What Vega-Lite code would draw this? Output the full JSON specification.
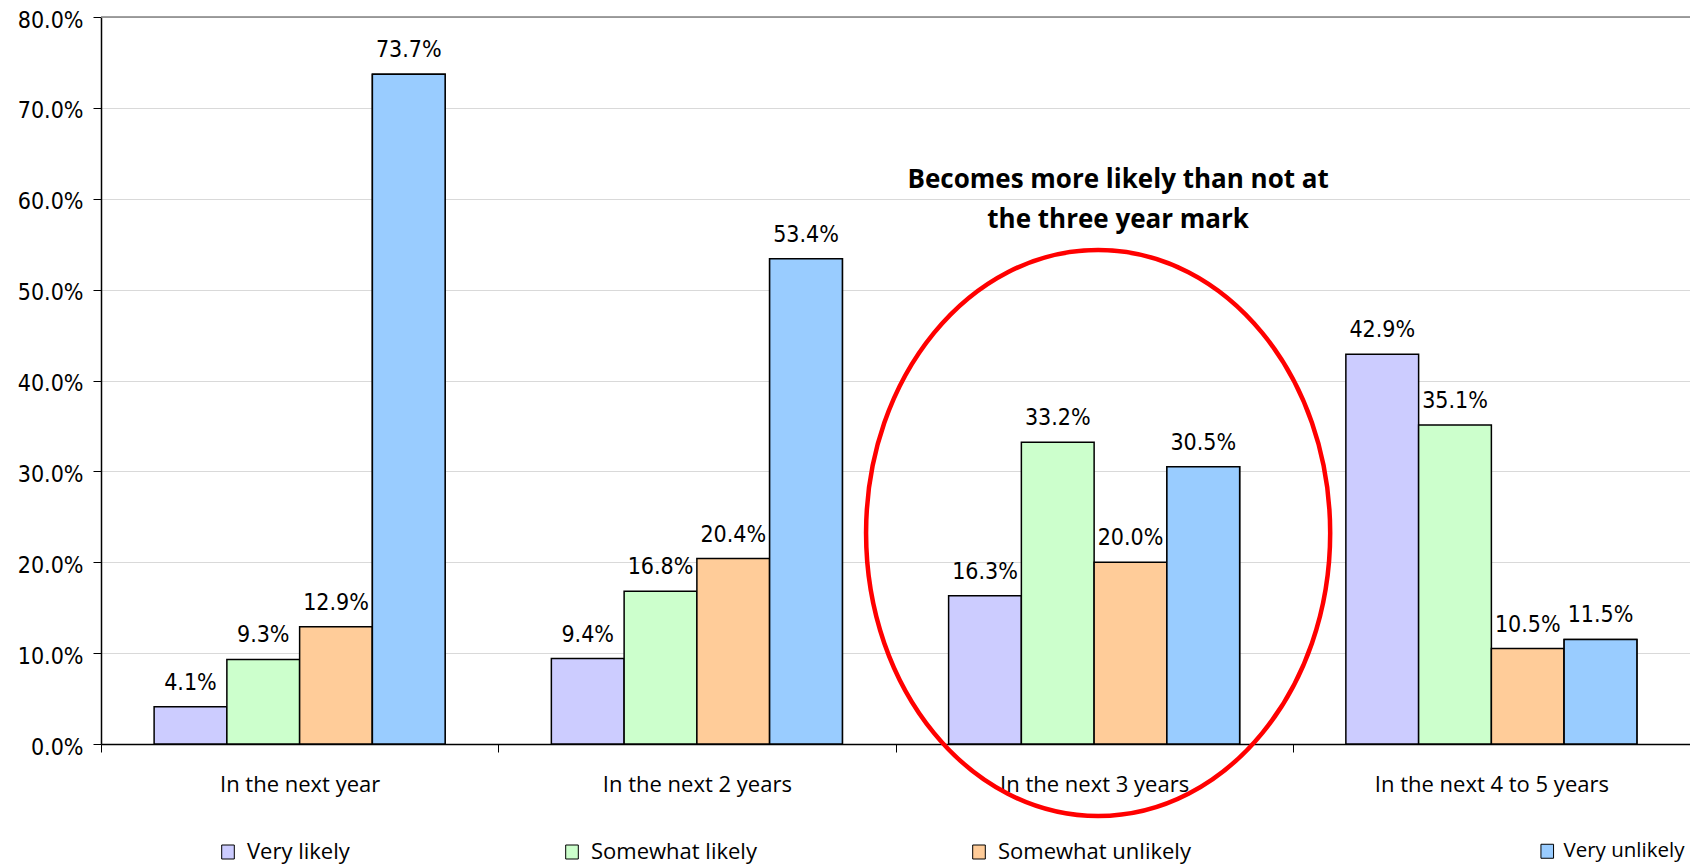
{
  "$schema": "https://vega.github.io/schema/vega-lite/v6.json",
  "width": 1589,
  "height": 727,
  "autosize": {"type": "none"},
  "padding": {"left": 101, "top": 17, "right": 0, "bottom": 122},
  "background": "white",
  "config": {
    "view": {"stroke": null},
    "axisY": {
      "grid": true, "gridColor": "#d9d9d9", "gridWidth": 1,
      "domainColor": "black", "domainWidth": 1.5,
      "tickColor": "black", "tickSize": 8, "tickWidth": 1,
      "labelFont": "DejaVu Sans Condensed", "labelFontSize": 23, "labelColor": "black",
      "labelPadding": 10, "labelOffset": 3
    },
    "axisX": {
      "grid": false, "labelAngle": 0,
      "domainColor": "black", "domainWidth": 1.5,
      "tickColor": "black", "tickSize": 8, "tickWidth": 1, "tickBand": "extent",
      "labelFont": "Open Sans", "labelFontSize": 22, "labelColor": "black",
      "labelPadding": 22, "labelLimit": 400
    },
    "legend": {
      "title": null, "orient": "none", "direction": "horizontal",
      "labelFont": "Open Sans", "labelFontSize": 22, "labelColor": "black",
      "labelOffset": 8, "labelLimit": 400,
      "symbolType": "M -0.9 -1 H 0.9 V 1 H -0.9 Z", "symbolSize": 196,
      "symbolStrokeColor": "black", "symbolStrokeWidth": 1, "symbolOpacity": 1
    }
  },
  "resolve": {"scale": {"fill": "independent"}, "legend": {"fill": "independent"}},
  "datasets": {
    "survey": [
      {"period": "In the next year", "response": "Very likely", "share": 0.041},
      {"period": "In the next year", "response": "Somewhat likely", "share": 0.093},
      {"period": "In the next year", "response": "Somewhat unlikely", "share": 0.129},
      {"period": "In the next year", "response": "Very unlikely", "share": 0.737},
      {"period": "In the next 2 years", "response": "Very likely", "share": 0.094},
      {"period": "In the next 2 years", "response": "Somewhat likely", "share": 0.168},
      {"period": "In the next 2 years", "response": "Somewhat unlikely", "share": 0.204},
      {"period": "In the next 2 years", "response": "Very unlikely", "share": 0.534},
      {"period": "In the next 3 years", "response": "Very likely", "share": 0.163},
      {"period": "In the next 3 years", "response": "Somewhat likely", "share": 0.332},
      {"period": "In the next 3 years", "response": "Somewhat unlikely", "share": 0.200},
      {"period": "In the next 3 years", "response": "Very unlikely", "share": 0.305},
      {"period": "In the next 4 to 5 years", "response": "Very likely", "share": 0.429},
      {"period": "In the next 4 to 5 years", "response": "Somewhat likely", "share": 0.351},
      {"period": "In the next 4 to 5 years", "response": "Somewhat unlikely", "share": 0.105},
      {"period": "In the next 4 to 5 years", "response": "Very unlikely", "share": 0.115}
    ],
    "note": [
      {"period": "In the next 3 years", "share": 0.6118, "text": ["Becomes more likely than not at", "the three year mark"]}
    ],
    "focus": [
      {"period": "In the next 3 years", "share": 0.2322}
    ],
    "frame": [
      {"share": 0.8}
    ]
  },
  "layer": [
    {
      "data": {"name": "survey"},
      "mark": {"type": "bar", "stroke": "black", "strokeWidth": 1.5},
      "encoding": {
        "x": {
          "field": "period", "type": "nominal", "title": null,
          "sort": ["In the next year", "In the next 2 years", "In the next 3 years", "In the next 4 to 5 years"],
          "scale": {"paddingInner": 0, "paddingOuter": 0}
        },
        "xOffset": {
          "field": "response", "type": "nominal",
          "sort": ["Very likely", "Somewhat likely", "Somewhat unlikely", "Very unlikely"],
          "scale": {"paddingInner": 0, "paddingOuter": 0.73}
        },
        "y": {
          "field": "share", "type": "quantitative", "title": null,
          "scale": {"domain": [0, 0.8]},
          "axis": {"format": ".1%", "values": [0, 0.1, 0.2, 0.3, 0.4, 0.5, 0.6, 0.7, 0.8]}
        },
        "fill": {
          "field": "response", "type": "nominal",
          "scale": {
            "domain": ["Very likely", "Somewhat likely", "Somewhat unlikely", "Very unlikely"],
            "range": ["#ccccff", "#ccffcc", "#ffcc99", "#99ccff"]
          },
          "legend": {
            "legendX": 116, "legendY": 824, "columns": 3, "columnPadding": 211,
            "values": ["Very likely", "Somewhat likely", "Somewhat unlikely"]
          }
        }
      }
    },
    {
      "data": {"name": "survey"},
      "transform": [{"filter": "datum.response == 'Very unlikely'"}],
      "mark": {"type": "bar", "stroke": "black", "strokeWidth": 1.5},
      "encoding": {
        "x": {
          "field": "period", "type": "nominal", "title": null,
          "sort": ["In the next year", "In the next 2 years", "In the next 3 years", "In the next 4 to 5 years"]
        },
        "xOffset": {
          "field": "response", "type": "nominal",
          "sort": ["Very likely", "Somewhat likely", "Somewhat unlikely", "Very unlikely"]
        },
        "y": {"field": "share", "type": "quantitative", "title": null},
        "fill": {
          "field": "response", "type": "nominal",
          "scale": {"domain": ["Very unlikely"], "range": ["#99ccff"]},
          "legend": {"legendX": 1436, "legendY": 824, "labelFontSize": 20.5, "labelOffset": 6}
        }
      }
    },
    {
      "data": {"name": "survey"},
      "mark": {"type": "text", "baseline": "alphabetic", "dy": -17, "font": "DejaVu Sans Condensed", "fontSize": 23, "color": "black"},
      "encoding": {
        "x": {
          "field": "period", "type": "nominal", "title": null,
          "sort": ["In the next year", "In the next 2 years", "In the next 3 years", "In the next 4 to 5 years"]
        },
        "xOffset": {
          "field": "response", "type": "nominal",
          "sort": ["Very likely", "Somewhat likely", "Somewhat unlikely", "Very unlikely"]
        },
        "y": {"field": "share", "type": "quantitative", "title": null},
        "text": {"field": "share", "type": "quantitative", "format": ".1%"}
      }
    },
    {
      "data": {"name": "frame"},
      "mark": {"type": "rule", "color": "#808080", "strokeWidth": 1.5},
      "encoding": {
        "y": {"field": "share", "type": "quantitative", "title": null}
      }
    },
    {
      "data": {"name": "note"},
      "mark": {"type": "text", "font": "Open Sans", "fontWeight": "bold", "fontSize": 26, "lineHeight": 40, "baseline": "alphabetic", "align": "center", "dx": 24, "color": "black"},
      "encoding": {
        "x": {
          "field": "period", "type": "nominal", "title": null,
          "sort": ["In the next year", "In the next 2 years", "In the next 3 years", "In the next 4 to 5 years"]
        },
        "y": {"field": "share", "type": "quantitative", "title": null},
        "text": {"field": "text"}
      }
    },
    {
      "data": {"name": "focus"},
      "mark": {
        "type": "point",
        "shape": "M -0.82 0 A 0.82 1 0 1 1 0.82 0 A 0.82 1 0 1 1 -0.82 0 Z",
        "size": 320356, "filled": false, "stroke": "#ff0000", "strokeWidth": 4.5,
        "opacity": 1, "xOffset": 4
      },
      "encoding": {
        "x": {
          "field": "period", "type": "nominal", "title": null,
          "sort": ["In the next year", "In the next 2 years", "In the next 3 years", "In the next 4 to 5 years"]
        },
        "y": {"field": "share", "type": "quantitative", "title": null}
      }
    }
  ]
}
